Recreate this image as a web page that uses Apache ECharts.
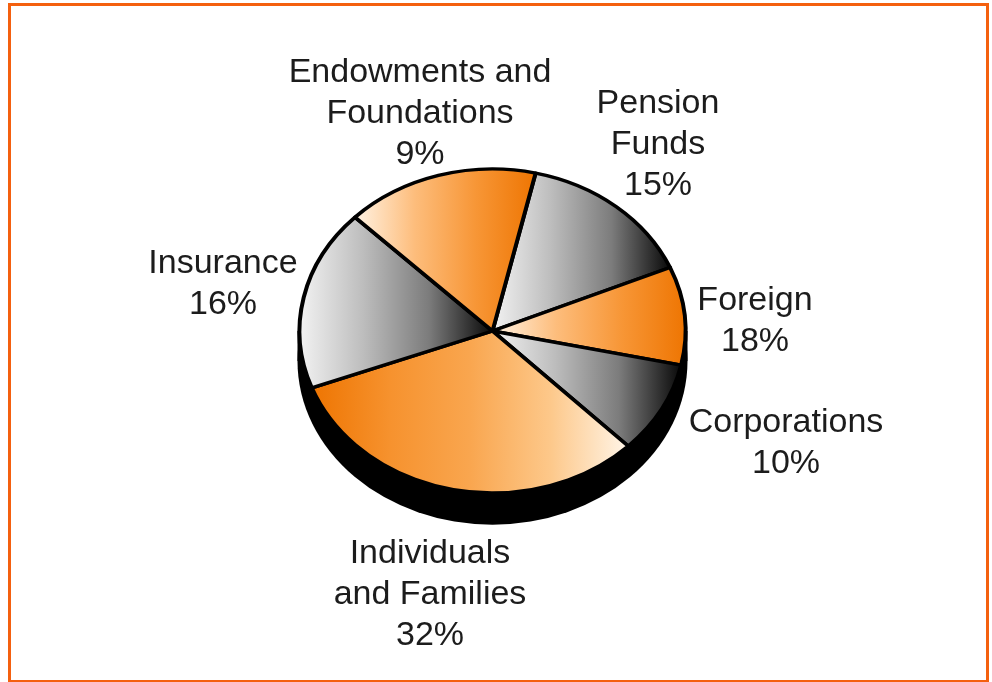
<!DOCTYPE html>
<html>
<head>
<meta charset="utf-8">
<style>html,body{margin:0;padding:0;background:#fff}#c{width:992px;height:682px}</style>
<script src="https://cdn.jsdelivr.net/npm/echarts@6/dist/echarts.min.js"></script>
</head>
<body>
<div id="c"></div>
<script>
// Slice order follows the drawing, clockwise from the Endowments/Pension edge.
var categories = ['Pension Funds', 'Foreign', 'Corporations', 'Individuals and Families', 'Insurance', 'Endowments and Foundations'];
// Share of the pie as actually drawn.
var drawnShares = [15, 9.8, 9.2, 31.7, 18.1, 16.2];
// Percentages as printed in the labels of the reference.
var printedLabels = ['15%', '18%', '10%', '32%', '16%', '9%'];
var labelNames = ['Pension\nFunds', 'Foreign', 'Corporations', 'Individuals\nand Families', 'Insurance', 'Endowments and\nFoundations'];
var tones = ['grey', 'orange', 'grey', 'orangeReversed', 'grey', 'orange'];

var labelAnchors = [[658, 145], [755, 321], [786, 443], [430, 595], [223, 284], [420, 114]];
var CX = 492.5, CY = 331, RX = 193, RY = 162, DEPTH = 30, START_DEG = -77.1;

function gradient(stops) {
  return new echarts.graphic.LinearGradient(0, 0, 1, 0, stops.map(function (c, i) {
    return { offset: i / (stops.length - 1), color: c };
  }));
}
var fills = {
  grey: gradient(['#f4f4f4', '#bdbdbd', '#7c7c7c', '#050505']),
  orange: gradient(['#fff4e6', '#fdbd7c', '#f79636', '#ee7400']),
  orangeReversed: gradient(['#ee7400', '#f6922e', '#f9a64f', '#fdc88a', '#fff6ea'])
};

var total = drawnShares.reduce(function (a, b) { return a + b; }, 0);
var cumulative = [];
drawnShares.reduce(function (sum, v) { cumulative.push(sum); return sum + v; }, 0);
var sliceData = categories.map(function (name, i) {
  return { name: name, value: [drawnShares[i], cumulative[i]] };
});

var option = {
  animation: false,
  backgroundColor: '#fff',
  graphic: [
    { type: 'rect', z: 0, shape: { x: 9.5, y: 4.5, width: 978, height: 677 },
      style: { fill: '#fff', stroke: '#f4600f', lineWidth: 3 } }
  ].concat(labelNames.map(function (n, i) {
    return {
      type: 'text', z: 10, x: labelAnchors[i][0], y: labelAnchors[i][1],
      style: {
        text: n + '\n' + printedLabels[i], fill: '#1c1c1c',
        font: '34px "Liberation Sans", Arial, sans-serif',
        lineHeight: 41, align: 'center', verticalAlign: 'middle'
      }
    };
  })),
  series: [
    {
      type: 'custom', coordinateSystem: 'none', z: 2, silent: true,
      data: [[1]],
      renderItem: function () {
        var black = { fill: '#000' };
        return { type: 'group', children: [
          { type: 'rect', shape: { x: CX - RX - 2, y: CY, width: 2 * RX + 4, height: DEPTH }, style: black },
          { type: 'circle', x: CX, y: CY + DEPTH, scaleY: RY / RX, shape: { cx: 0, cy: 0, r: RX + 2 }, style: black }
        ] };
      }
    },
    {
      type: 'custom', coordinateSystem: 'none', z: 3, silent: true,
      data: sliceData,
      encode: { itemName: -1 },
      renderItem: function (params, api) {
        var share = api.value(0), before = api.value(1);
        var start = (START_DEG + before / total * 360) * Math.PI / 180;
        var end = start + share / total * 2 * Math.PI;
        return {
          type: 'sector', x: CX, y: CY, scaleY: RY / RX,
          shape: { cx: 0, cy: 0, r: RX, r0: 0, startAngle: start, endAngle: end, clockwise: true },
          style: { fill: fills[tones[params.dataIndex]], stroke: '#000', lineWidth: 4, lineJoin: 'round', strokeNoScale: true }
        };
      }
    }
  ]
};
echarts.init(document.getElementById('c'), null, { renderer: 'canvas' }).setOption(option);
</script>
</body>
</html>
